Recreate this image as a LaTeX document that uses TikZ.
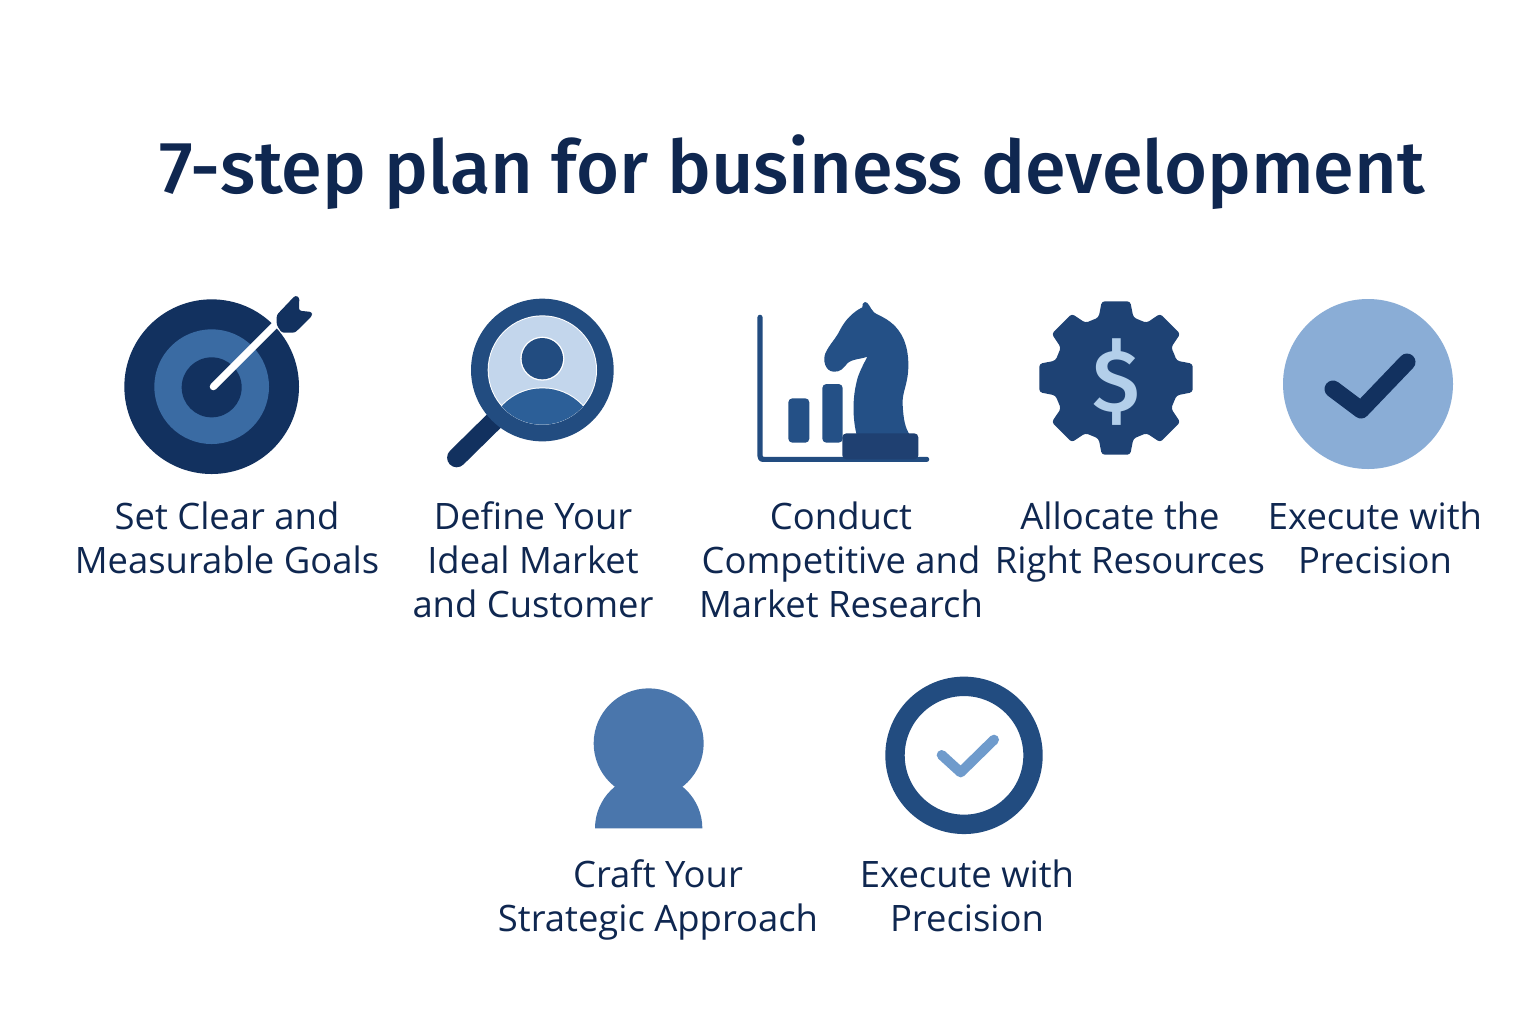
\documentclass[tikz,border=0pt]{standalone}
\usepackage{fontspec}
\setmainfont{Open Sans}
\newfontfamily\titlefont{Fira Sans Medium}
\definecolor{ink}{HTML}{0F2750}
\definecolor{navy}{HTML}{12315F}
\definecolor{midblue}{HTML}{3A6BA3}
\definecolor{ringblue}{HTML}{224C80}
\definecolor{paleblue}{HTML}{C3D6EC}
\definecolor{bodyblue}{HTML}{2C5F98}
\definecolor{knightblue}{HTML}{245086}
\definecolor{basedark}{HTML}{1F4071}
\definecolor{gearblue}{HTML}{1E4274}
\definecolor{softblue}{HTML}{8AADD6}
\definecolor{personblue}{HTML}{4A76AC}
\definecolor{checksoft}{HTML}{6F9BCC}
\definecolor{dollarblue}{HTML}{B3CFEA}
\tikzset{
  label text/.style={font=\fontsize{18.2}{22}\selectfont,text=ink,align=center,inner sep=0pt,anchor=north},
  zoomed/.style={x=0.16667pt,y=-0.16667pt}
}
\begin{document}
\begin{tikzpicture}[x=0.5pt,y=-0.5pt]
\useasboundingbox (0,0) rectangle (1536,1024);
\fill[white] (0,0) rectangle (1536,1024);
\node[font=\titlefont\fontsize{36.9}{44}\selectfont,text=ink,inner sep=0pt] (title) at (792,172) {7-step plan for business development};
% target
\begin{scope}[shift={(110,280)},zoomed]
\fill[navy] (305,320) circle (262);
\fill[midblue] (305,320) circle (172);
\fill[navy] (305,322) circle (90);
\draw[white,line width=3.6pt,line cap=round] (310,320) -- (500,130);
\fill[navy,rounded corners=1.2pt] (500,105) -- (556,46) -- (568,52) -- (567,92) -- (606,96) -- (606,108) -- (555,158) -- (515,158) -- (500,135) -- cycle;
\end{scope}
% magnifier
\begin{scope}[shift={(110,280)},zoomed]
\draw[navy,line width=9.6pt,line cap=round] (1160,415) -- (1040,533);
\fill[ringblue] (1297,270) circle (214);
\fill[white] (1297,270) circle (164);
\fill[paleblue] (1297,270) circle (161);
\begin{scope}
\clip (1297,270) circle (164);
\fill[white] (1297,490) circle (168);
\fill[bodyblue] (1297,490) circle (165);
\end{scope}
\fill[white] (1297,236) circle (66);
\fill[ringblue] (1297,236) circle (62);
\end{scope}
% chart and knight
\begin{scope}[shift={(740,285)},zoomed]
\draw[ringblue,line width=2.6pt,line cap=round,line join=round] (60,97) -- (60,512) .. controls (60,520) and (62,523) .. (72,523) -- (560,523);
\fill[knightblue,rounded corners=2pt] (145,340) rectangle (208,473);
\fill[knightblue,rounded corners=2pt] (247,297) rectangle (308,473);
\fill[knightblue] (375,51) .. controls (385,50) and (390,70) .. (402,82)
  .. controls (415,95) and (505,110) .. (505,240)
  .. controls (505,300) and (485,320) .. (488,360)
  .. controls (490,400) and (495,430) .. (510,450) -- (350,450)
  .. controls (340,410) and (335,350) .. (350,290)
  .. controls (355,265) and (372,235) .. (382,215)
  .. controls (365,222) and (335,222) .. (322,235)
  .. controls (310,250) and (300,262) .. (280,260)
  .. controls (255,258) and (248,225) .. (256,205)
  .. controls (270,175) and (285,165) .. (300,135)
  .. controls (315,105) and (340,80) .. (367,67)
  .. controls (367,58) and (368,52) .. (375,51) -- cycle;
\fill[basedark,rounded corners=2pt] (307,523) -- (307,445) -- (535,445) -- (535,523) -- cycle;
\end{scope}
% gear
\begin{scope}[shift={(1116,378)}]
\fill[gearblue,rounded corners=1.5pt] (-22.5:63)
  \foreach \a in {0,45,...,315} { -- (\a-16:63) -- (\a-10.5:78) -- (\a+10.5:78) -- (\a+16:63) } -- cycle;
\node[font=\titlefont\fontsize{44}{44}\selectfont,text=dollarblue,inner sep=0pt] (dollar) at (0,4) {\$};
\end{scope}
% big check
\fill[softblue] (1368,384) circle (85);
\draw[navy,line width=8.5pt,line cap=round,line join=round] (1333,389) -- (1361,410) -- (1407,362);
% person
\begin{scope}[shift={(570,665)},zoomed]
\fill[personblue] (236,235) circle (165);
\fill[personblue] (75,490) arc[start angle=180,end angle=360,radius=161] -- cycle;
\end{scope}
% small check
\begin{scope}[shift={(570,665)},zoomed]
\draw[ringblue,line width=9.7pt] (1182,271) circle (207);
\draw[checksoft,line width=5pt,line cap=round,line join=round] (1115,270) -- (1172,322) -- (1272,224);
\end{scope}
% labels
\node[label text] (goal) at (227,501) {Set Clear and\\Measurable Goals};
\node[label text] (market) at (533,501) {Define Your\\Ideal Market\\and Customer};
\node[label text] (research) at (841,501) {Conduct\\Competitive and\\Market Research};
\node[label text] (resources) at (1130,501) {Allocate the\kern 10pt\\Right Resources};
\node[label text] (execute) at (1375,501) {Execute with\\Precision};
\node[label text] (craft) at (658,859) {Craft Your\\Strategic Approach};
\node[label text] (executetwo) at (967,859) {Execute with\\Precision};
\end{tikzpicture}
\end{document}
